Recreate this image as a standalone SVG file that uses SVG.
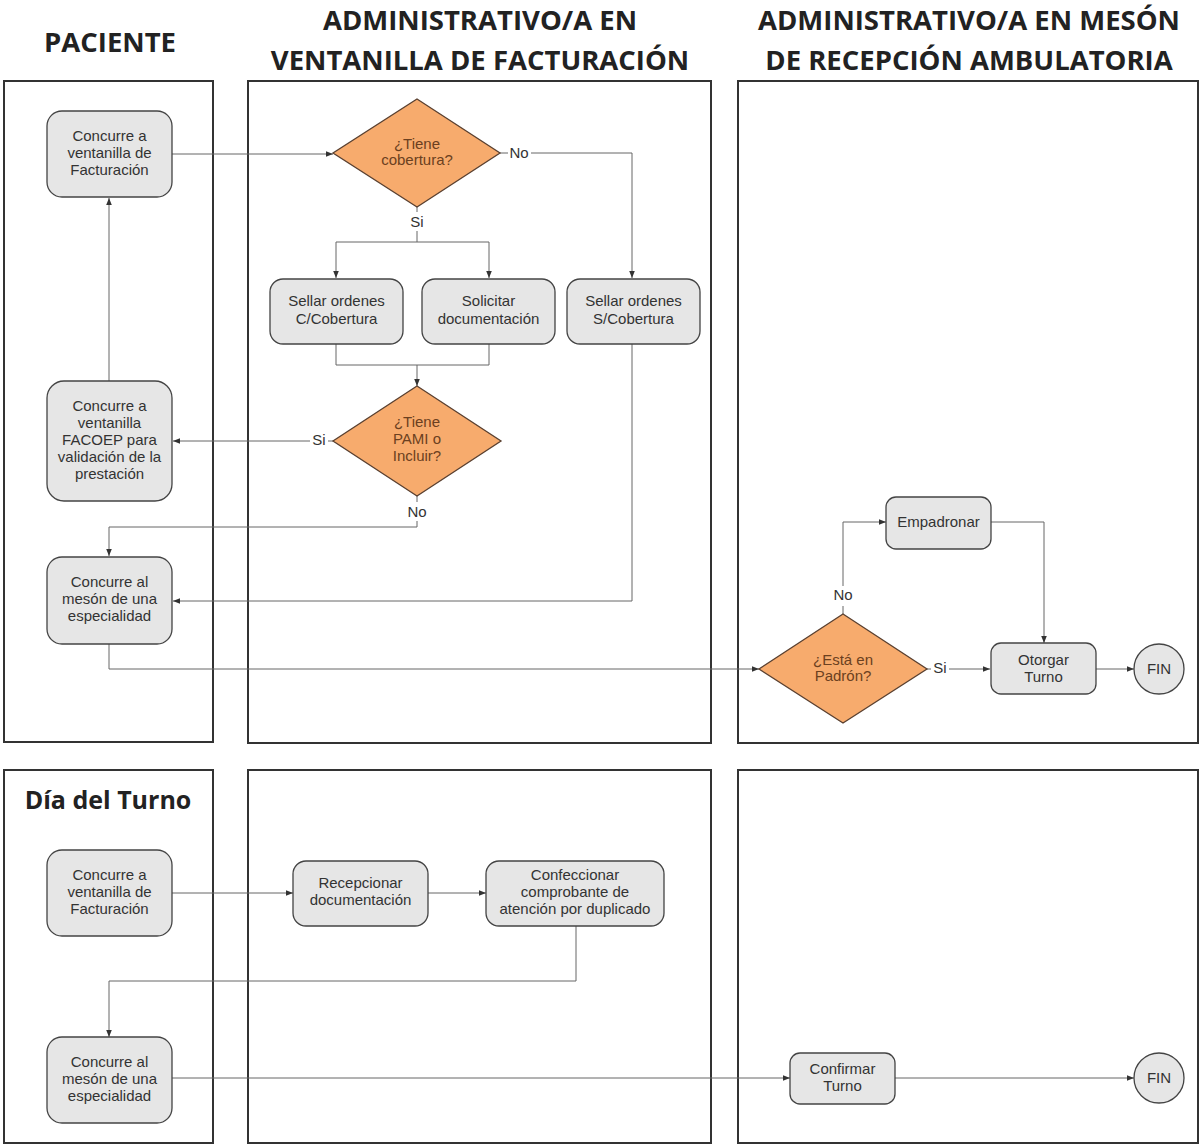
<svg xmlns="http://www.w3.org/2000/svg" width="1200" height="1146" viewBox="0 0 1200 1146">
<defs>
<marker id="arr" viewBox="0 0 10 10" refX="10" refY="5" markerWidth="7" markerHeight="7" orient="auto" markerUnits="userSpaceOnUse">
<path d="M0,1 L10,5 L0,9 Z" fill="#333"/>
</marker>
<style>
.lane{fill:none;stroke:#333;stroke-width:2}
.hdr{font-family:"Open Sans","Liberation Sans",sans-serif;font-weight:bold;font-size:27.5px;fill:#222;text-anchor:middle}
.box{fill:#e6e6e6;stroke:#444;stroke-width:1.3}
.dia{fill:#f7ab6d;stroke:#5a4030;stroke-width:1.3}
.t{font-family:"Liberation Sans",Arial,sans-serif;font-size:15px;fill:#333;text-anchor:middle}
.dt{font-family:"Liberation Sans",Arial,sans-serif;font-size:15px;fill:#6b4020;text-anchor:middle}
.lbl{font-family:"Liberation Sans",Arial,sans-serif;font-size:15px;fill:#333;text-anchor:middle}
.c{fill:none;stroke:#666;stroke-width:1}
.ca{fill:none;stroke:#666;stroke-width:1;marker-end:url(#arr)}
</style>
</defs>
<rect width="1200" height="1146" fill="#fff"/>
<g id="headers">
<text class="hdr" x="110" y="52">PACIENTE</text>
<text class="hdr" x="480" y="30">ADMINISTRATIVO/A EN</text>
<text class="hdr" x="480" y="70">VENTANILLA DE FACTURACIÓN</text>
<text class="hdr" x="969" y="30">ADMINISTRATIVO/A EN MESÓN</text>
<text class="hdr" x="969" y="70">DE RECEPCIÓN AMBULATORIA</text>
</g>
<g id="lanes">
<rect class="lane" x="4" y="81" width="209" height="661"/>
<rect class="lane" x="248" y="81" width="463" height="662"/>
<rect class="lane" x="738" y="81" width="460" height="662"/>
<rect class="lane" x="4" y="770" width="209" height="373"/>
<rect class="lane" x="248" y="770" width="463" height="373"/>
<rect class="lane" x="738" y="770" width="460" height="373"/>
<text class="hdr" x="108" y="809" style="font-size:25px">Día del Turno</text>
</g>
<g id="connectors">
<path class="ca" d="M172,154 H333"/>
<path class="c" d="M500,153 H508"/>
<path class="ca" d="M531,153 H632 V278"/>
<path class="c" d="M417,207 V212"/>
<path class="c" d="M417,231 V242 M336,242 H489"/>
<path class="ca" d="M336,242 V278"/>
<path class="ca" d="M489,242 V278"/>
<path class="c" d="M336,344 V365 H489 V344"/>
<path class="ca" d="M417,365 V386"/>
<path class="c" d="M333,441 H328"/>
<path class="ca" d="M310,441 H173"/>
<path class="ca" d="M109,381 V198"/>
<path class="c" d="M417,496 V502"/>
<path class="ca" d="M417,521 V527 H109 V556"/>
<path class="ca" d="M632,344 V601 H173"/>
<path class="ca" d="M109,644 V669 H759"/>
<path class="c" d="M843,614 V606"/>
<path class="ca" d="M843,586 V522 H886"/>
<path class="ca" d="M991,522 H1044 V643"/>
<path class="c" d="M927,669 H931"/>
<path class="ca" d="M949,669 H990"/>
<path class="ca" d="M1096,669 H1134"/>
<path class="ca" d="M172,893 H293"/>
<path class="ca" d="M428,893 H486"/>
<path class="ca" d="M576,926 V981 H109 V1037"/>
<path class="ca" d="M172,1078 H790"/>
<path class="ca" d="M895,1078 H1134"/>
</g>
<g id="edge-labels">
<text class="lbl" x="519" y="158">No</text>
<text class="lbl" x="417" y="227">Si</text>
<text class="lbl" x="319" y="445">Si</text>
<text class="lbl" x="417" y="517">No</text>
<text class="lbl" x="843" y="600">No</text>
<text class="lbl" x="940" y="673">Si</text>
</g>
<g id="n1"><rect class="box" x="47" y="111" width="125" height="86" rx="15"/>
<text class="t" x="109.5" y="141">Concurre a</text><text class="t" x="109.5" y="158">ventanilla de</text><text class="t" x="109.5" y="175">Facturación</text></g>
<g id="d1"><polygon class="dia" points="417,99 500,153 417,207 333,153"/>
<text class="dt" x="417" y="149">¿Tiene</text><text class="dt" x="417" y="165">cobertura?</text></g>
<g id="n2"><rect class="box" x="270" y="279" width="133" height="65" rx="13"/>
<text class="t" x="336.5" y="306">Sellar ordenes</text><text class="t" x="336.5" y="324">C/Cobertura</text></g>
<g id="n3"><rect class="box" x="422" y="279" width="133" height="65" rx="13"/>
<text class="t" x="488.5" y="306">Solicitar</text><text class="t" x="488.5" y="324">documentación</text></g>
<g id="n4"><rect class="box" x="567" y="279" width="133" height="65" rx="13"/>
<text class="t" x="633.5" y="306">Sellar ordenes</text><text class="t" x="633.5" y="324">S/Cobertura</text></g>
<g id="d2"><polygon class="dia" points="417,386 501,441 417,496 333,441"/>
<text class="dt" x="417" y="427">¿Tiene</text><text class="dt" x="417" y="444">PAMI o</text><text class="dt" x="417" y="461">Incluir?</text></g>
<g id="n5"><rect class="box" x="47" y="381" width="125" height="120" rx="17"/>
<text class="t" x="109.5" y="411">Concurre a</text><text class="t" x="109.5" y="428">ventanilla</text><text class="t" x="109.5" y="445">FACOEP para</text><text class="t" x="109.5" y="462">validación de la</text><text class="t" x="109.5" y="479">prestación</text></g>
<g id="n6"><rect class="box" x="47" y="557" width="125" height="87" rx="15"/>
<text class="t" x="109.5" y="587">Concurre al</text><text class="t" x="109.5" y="604">mesón de una</text><text class="t" x="109.5" y="621">especialidad</text></g>
<g id="d3"><polygon class="dia" points="843,614 927,669 843,723 759,669"/>
<text class="dt" x="843" y="665">¿Está en</text><text class="dt" x="843" y="681">Padrón?</text></g>
<g id="n7"><rect class="box" x="886" y="497" width="105" height="52" rx="10"/>
<text class="t" x="938.5" y="527">Empadronar</text></g>
<g id="n8"><rect class="box" x="991" y="643" width="105" height="51" rx="10"/>
<text class="t" x="1043.5" y="665">Otorgar</text><text class="t" x="1043.5" y="682">Turno</text></g>
<g id="fin1"><circle class="box" cx="1159" cy="669" r="25"/>
<text class="t" x="1159" y="674">FIN</text></g>
<g id="n9"><rect class="box" x="47" y="850" width="125" height="86" rx="15"/>
<text class="t" x="109.5" y="880">Concurre a</text><text class="t" x="109.5" y="897">ventanilla de</text><text class="t" x="109.5" y="914">Facturación</text></g>
<g id="n10"><rect class="box" x="293" y="861" width="135" height="65" rx="13"/>
<text class="t" x="360.5" y="888">Recepcionar</text><text class="t" x="360.5" y="905">documentación</text></g>
<g id="n11"><rect class="box" x="486" y="861" width="178" height="65" rx="13"/>
<text class="t" x="575" y="880">Confeccionar</text><text class="t" x="575" y="897">comprobante de</text><text class="t" x="575" y="914">atención por duplicado</text></g>
<g id="n12"><rect class="box" x="47" y="1037" width="125" height="86" rx="15"/>
<text class="t" x="109.5" y="1067">Concurre al</text><text class="t" x="109.5" y="1084">mesón de una</text><text class="t" x="109.5" y="1101">especialidad</text></g>
<g id="n13"><rect class="box" x="790" y="1053" width="105" height="51" rx="10"/>
<text class="t" x="842.5" y="1074">Confirmar</text><text class="t" x="842.5" y="1091">Turno</text></g>
<g id="fin2"><circle class="box" cx="1159" cy="1078" r="25"/>
<text class="t" x="1159" y="1083">FIN</text></g>
</svg>
